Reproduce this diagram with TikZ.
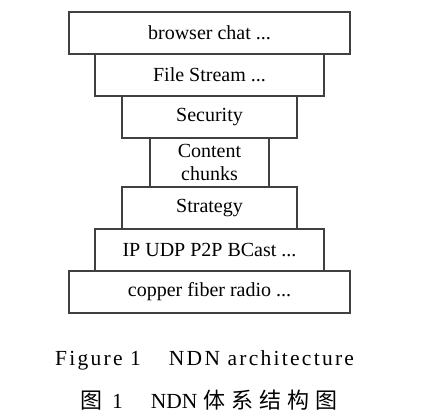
\documentclass[tikz,border=0pt]{standalone}
\usepackage{fontspec}
\setmainfont{Liberation Serif}
\newfontfamily\capfont[LetterSpace=10.5]{Liberation Serif}
\newfontfamily\cjk{Noto Sans CJK SC}
\newcommand{\cjkgap}{\hspace{6pt}}
\usetikzlibrary{positioning}

\begin{document}
\begin{tikzpicture}[x=1pt, y=-1pt, node distance=0pt]

% Styles for layers
\tikzstyle{layer} = [rectangle, draw=black!75, line width=1.1pt, outer sep=0pt, inner sep=0pt, minimum height=42pt, font=\fontsize{20}{23}\selectfont]
\tikzstyle{caption} = [anchor=base west, inner sep=0pt]

\useasboundingbox (0,0) rectangle (446,419);

% Layers
\node [layer, minimum width=281pt] (app) at (209.5,33) {browser chat ...};
\node [layer, minimum width=229pt, below=of app] (file) {File Stream ...};
\node [layer, minimum width=175pt, below=of file] (security) {Security};
\node [layer, minimum width=119pt, minimum height=49pt, align=center, below=of security] (content) {Content\\chunks};
\node [layer, minimum width=175pt, below=of content] (strategy) {Strategy};
\node [layer, minimum width=229pt, below=of strategy] (transport) {IP UDP P2P BCast ...};
\node [layer, minimum width=281pt, below=of transport] (link) {copper fiber radio ...};

% Captions
\node [caption, font=\capfont\fontsize{21.5}{25}\selectfont] (encap) at (55,365) {Figure 1\hspace{1.3em}NDN architecture};
\node [caption, font=\fontsize{21.5}{25}\selectfont] (zhcap) at (80,408) {{\cjk\fontsize{22}{25}\selectfont 图}\hspace{10pt}1\hspace{28pt}NDN\cjkgap{\cjk\fontsize{22}{25}\selectfont 体\cjkgap 系\cjkgap 结\cjkgap 构\cjkgap 图}};

\end{tikzpicture}
\end{document}
